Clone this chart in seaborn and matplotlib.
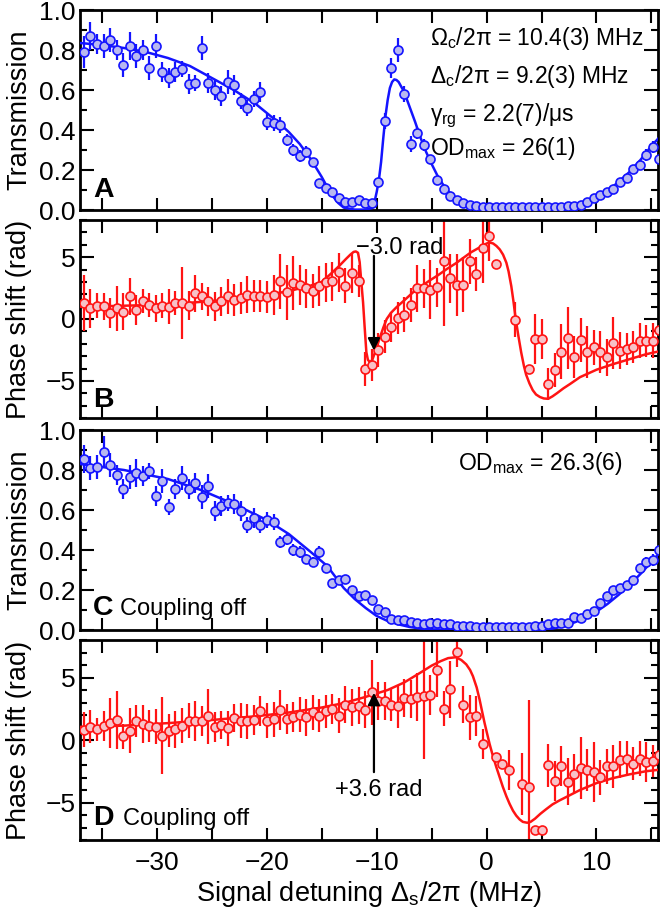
import numpy as np
import pandas as pd
import matplotlib
matplotlib.use("Agg")
import matplotlib.pyplot as plt
import seaborn as sns
from matplotlib.ticker import MultipleLocator

nan = np.nan

# signal detuning of the measured points (MHz)
detuning = [-36.64, -36.05, -35.45, -34.86, -34.26, -33.67, -33.07, -32.48, -31.88, -31.29,
            -30.69, -30.10, -29.50, -28.91, -28.31, -27.72, -27.12, -26.53, -25.93, -25.34,
            -24.74, -24.15, -23.55, -22.96, -22.36, -21.77, -21.17, -20.58, -19.98, -19.39,
            -18.79, -18.20, -17.60, -17.01, -16.41, -15.82, -15.22, -14.63, -14.03, -13.44,
            -12.84, -12.25, -11.65, -11.06, -10.46, -9.87, -9.27, -8.68, -8.08, -7.49,
            -6.89, -6.30, -5.70, -5.11, -4.51, -3.92, -3.32, -2.73, -2.13, -1.54,
            -0.94, -0.35, 0.25, 0.84, 1.44, 2.03, 2.63, 3.22, 3.82, 4.41,
            5.01, 5.60, 6.20, 6.79, 7.39, 7.98, 8.58, 9.17, 9.77, 10.36,
            10.96, 11.55, 12.15, 12.74, 13.34, 13.93, 14.53, 15.12, 15.72]

# A: transmission, coupling on
trans_on = [0.79, 0.87, 0.83, 0.82, 0.85, 0.80, 0.725, 0.82, 0.77, 0.80,
            0.71, 0.82, 0.69, 0.66, 0.69, 0.705, 0.63, 0.635, 0.81, 0.635,
            0.60, 0.57, 0.64, 0.625, 0.545, 0.51, 0.555, 0.59, 0.44, 0.435,
            0.425, 0.35, 0.30, 0.27, 0.29, 0.24, 0.135, 0.11, 0.09, 0.06,
            0.04, 0.04, 0.05, 0.035, 0.035, 0.14, 0.445, 0.71, 0.80, 0.58,
            0.33, 0.385, 0.325, 0.255, 0.15, 0.105, 0.07, 0.05, 0.035, 0.025,
            0.02, 0.015, 0.015, 0.015, 0.015, 0.015, 0.015, 0.015, 0.015, 0.015,
            0.015, 0.015, 0.015, 0.015, 0.018, 0.02, 0.025, 0.04, 0.06, 0.075,
            0.09, 0.105, 0.14, 0.16, 0.205, 0.225, 0.275, 0.315, 0.255]
trans_on_err = [0.08, 0.07, 0.05, 0.06, 0.06, 0.05, 0.06, 0.07, 0.06, 0.05,
                0.06, 0.06, 0.05, 0.05, 0.05, 0.04, 0.05, 0.04, 0.06, 0.05,
                0.05, 0.05, 0.06, 0.05, 0.04, 0.04, 0.04, 0.05, 0.04, 0.04,
                0.04, 0.03, 0.03, 0.03, 0.03, 0.02, 0.02, 0.015, 0.015, 0.01,
                0.01, 0.01, 0.015, 0.01, 0.01, 0.02, 0.04, 0.05, 0.06, 0.04,
                0.04, 0.03, 0.03, 0.02, 0.02, 0.015, 0.01, 0.01, 0.01, 0.01,
                0.01, 0.01, 0.01, 0.01, 0.01, 0.01, 0.01, 0.01, 0.01, 0.01,
                0.01, 0.01, 0.01, 0.01, 0.01, 0.01, 0.01, 0.01, 0.015, 0.015,
                0.015, 0.015, 0.02, 0.02, 0.02, 0.025, 0.03, 0.03, 0.03]

# B: phase shift, coupling on (nan = off scale)
phase_on = [1.29, 0.86, 1.08, 1.02, 0.46, 0.86, 0.59, 1.83, 0.75, 1.45,
            1.13, 0.86, 1.08, 1.00, 1.29, 1.29, 1.08, 2.07, 1.83, 1.42,
            1.02, 1.42, 1.83, 1.53, 1.69, 1.96, 1.83, 1.83, 1.75, 1.96,
            3.04, 2.15, 2.90, 2.74, 2.47, 2.26, 2.69, 2.96, 3.04, 3.76,
            2.69, 3.68, 3.04, -4.03, -3.71, -2.50, -1.42, -0.62, 0.08, 0.35,
            1.13, 2.47, 2.47, 2.37, 2.55, 4.70, 3.28, 2.77, 2.77, 4.65,
            3.63, 5.70, 6.72, 4.44, nan, nan, -0.05, nan, -4.03, -1.61,
            -1.61, -5.24, -4.11, -2.63, -1.56, -3.09, -1.69, -2.63, -2.28, -2.63,
            -3.09, -1.96, -2.55, -2.42, -2.23, -1.75, -1.75, -1.75, -0.89]
phase_on_err = [2.3, 1.6, 1.0, 1.1, 1.2, 1.8, 1.5, 1.5, 1.2, 1.0,
                1.0, 1.1, 1.0, 1.4, 1.0, 2.9, 1.2, 1.5, 1.1, 1.2,
                1.2, 1.2, 1.4, 1.3, 1.3, 1.5, 1.3, 1.3, 1.3, 1.6,
                2.2, 2.2, 2.2, 1.6, 1.6, 1.4, 1.6, 1.6, 1.6, 1.6,
                1.4, 1.6, 1.3, 1.4, 1.3, 1.4, 1.3, 1.2, 1.3, 1.4,
                1.4, 1.9, 1.6, 2.4, 1.6, 5.3, 2.0, 2.5, 2.2, 1.8,
                1.4, 2.8, 2.0, 0.3, nan, nan, 1.4, nan, 0.3, 2.0,
                1.6, 1.3, 1.4, 2.2, 2.5, 1.7, 1.8, 2.1, 1.4, 1.7,
                1.5, 2.1, 1.5, 1.3, 1.3, 1.4, 1.3, 1.4, 0.8]

# C: transmission, coupling off
trans_off = [0.855, 0.81, 0.817, 0.89, 0.825, 0.775, 0.703, 0.763, 0.783, 0.77,
             0.797, 0.67, 0.747, 0.617, 0.703, 0.758, 0.703, 0.733, 0.663, 0.72,
             0.597, 0.62, 0.635, 0.628, 0.595, 0.525, 0.558, 0.525, 0.55, 0.54,
             0.442, 0.453, 0.40, 0.39, 0.353, 0.342, 0.39, 0.308, 0.237, 0.25,
             0.253, 0.20, 0.172, 0.175, 0.15, 0.105, 0.092, 0.055, 0.05, 0.05,
             0.042, 0.033, 0.03, 0.037, 0.037, 0.03, 0.03, 0.02, 0.02, 0.02,
             0.015, 0.015, 0.015, 0.015, 0.015, 0.015, 0.015, 0.015, 0.015, 0.02,
             0.02, 0.03, 0.037, 0.037, 0.037, 0.063, 0.058, 0.078, 0.095, 0.133,
             0.17, 0.20, 0.208, 0.225, 0.25, 0.308, 0.342, 0.35, 0.40]
trans_off_err = [0.07, 0.06, 0.06, 0.08, 0.06, 0.05, 0.05, 0.06, 0.07, 0.05,
                 0.04, 0.05, 0.06, 0.04, 0.05, 0.06, 0.05, 0.05, 0.06, 0.06,
                 0.05, 0.05, 0.04, 0.05, 0.05, 0.04, 0.05, 0.04, 0.04, 0.04,
                 0.03, 0.03, 0.03, 0.03, 0.025, 0.025, 0.03, 0.02, 0.02, 0.02,
                 0.02, 0.02, 0.015, 0.015, 0.015, 0.01, 0.01, 0.01, 0.01, 0.01,
                 0.01, 0.01, 0.01, 0.01, 0.01, 0.01, 0.01, 0.01, 0.01, 0.01,
                 0.01, 0.01, 0.01, 0.01, 0.01, 0.01, 0.01, 0.01, 0.01, 0.01,
                 0.01, 0.01, 0.01, 0.01, 0.01, 0.01, 0.01, 0.01, 0.015, 0.015,
                 0.015, 0.015, 0.015, 0.02, 0.02, 0.02, 0.025, 0.03, 0.03]

# D: phase shift, coupling off
phase_off = [0.81, 1.08, 0.86, 1.13, 1.35, 1.62, 0.32, 0.76, 1.54, 1.27,
             1.13, 1.08, 0.35, 0.76, 0.86, 1.13, 1.54, 1.49, 1.54, 1.89,
             1.03, 1.22, 0.95, 1.76, 1.54, 1.49, 1.62, 2.30, 1.54, 1.68,
             2.38, 1.70, 1.81, 2.03, 1.81, 2.24, 1.95, 2.30, 2.49, 1.95,
             2.84, 2.62, 2.76, 2.43, 3.84, 3.11, 3.11, 2.84, 2.70, 3.38,
             3.30, 3.46, 3.51, 3.57, 5.62, 2.51, 4.05, 7.08, 2.84, 1.84,
             1.95, -0.35, nan, -1.35, -1.89, -2.43, nan, -3.51, -3.78, -7.16,
             -7.16, -2.03, -3.24, -2.11, -3.32, -2.70, -2.22, -2.38, -2.57, -2.97,
             -2.11, -2.11, -1.57, -1.49, -1.89, -1.49, -1.76, -1.68, -1.22]
phase_off_err = [1.4, 1.3, 0.9, 1.2, 2.0, 2.3, 1.0, 1.8, 1.3, 1.5,
                 1.3, 1.4, 3.1, 1.3, 1.5, 1.4, 1.4, 1.6, 1.2, 2.2,
                 1.2, 1.1, 1.4, 1.1, 1.4, 1.4, 1.2, 1.2, 1.4, 1.4,
                 1.6, 1.2, 1.2, 1.4, 1.5, 1.4, 1.3, 1.3, 1.2, 1.4,
                 1.5, 1.5, 1.5, 1.5, 2.6, 1.5, 1.5, 1.3, 1.7, 1.5,
                 1.5, 1.9, 5.0, 1.6, 2.2, 1.4, 2.3, 1.2, 1.5, 1.8,
                 1.6, 1.2, nan, 0.3, 0.3, 1.6, nan, 2.5, 7.0, 0.3,
                 0.3, 1.7, 1.6, 1.6, 1.9, 1.6, 2.5, 1.7, 2.4, 1.4,
                 1.4, 1.7, 1.5, 1.4, 1.3, 1.4, 1.6, 1.3, 1.0]

# fitted model curves
fit_a_x = [-37, -35, -33, -31, -29, -27, -25, -23, -21, -19, -18, -17, -16, -15.5, -15, -14.5,
           -14, -13.5, -13, -12, -11, -10.4, -10.2, -10.0, -9.8, -9.6, -9.4, -9.2, -9.0, -8.8,
           -8.6, -8.4, -8.2, -8.0, -7.8, -7.5, -7.0, -6.5, -6.0, -5.5, -5.0, -4.5, -4.0, -3.5,
           -3.0, -2.5, -2.0, -1.5, -1.0, 0, 2, 4, 6, 7, 8, 9, 10, 11, 12, 13, 14, 15, 16]
fit_a_y = [0.835, 0.825, 0.81, 0.79, 0.76, 0.72, 0.66, 0.60, 0.53, 0.44, 0.39, 0.33, 0.255, 0.21,
           0.165, 0.115, 0.07, 0.035, 0.012, 0.002, 0.002, 0.01, 0.04, 0.09, 0.15, 0.24, 0.36,
           0.47, 0.55, 0.61, 0.64, 0.653, 0.65, 0.64, 0.62, 0.59, 0.515, 0.44, 0.36, 0.29, 0.23,
           0.175, 0.13, 0.095, 0.067, 0.045, 0.03, 0.02, 0.012, 0.005, 0.002, 0.002, 0.004,
           0.008, 0.017, 0.035, 0.065, 0.095, 0.14, 0.19, 0.25, 0.32, 0.38]

fit_b_x = [-37, -34, -31, -28, -25, -22, -20, -18, -16, -15, -14.3, -13.4, -12.8, -12.4, -12.1,
           -11.9, -11.7, -11.55, -11.4, -11.24, -11.1, -10.94, -10.8, -10.6, -10.4, -10.15, -9.9,
           -9.7, -9.4, -9.09, -8.7, -8.2, -7.5, -6.7, -6.0, -5.2, -4.4, -3.6, -2.8, -2.1, -1.4,
           -0.6, 0.0, 0.3, 0.6, 0.9, 1.2, 1.5, 1.8, 2.0, 2.25, 2.45, 2.65, 2.9, 3.15, 3.4, 3.6,
           3.9, 4.2, 4.5, 4.85, 5.2, 5.6, 6.0, 6.4, 7.0, 7.6, 8.5, 10.0, 11.5, 13.0, 14.5, 16.0]
fit_b_y = [1.0, 1.05, 1.12, 1.25, 1.45, 1.7, 1.95, 2.25, 2.7, 3.0, 3.55, 4.3, 4.85, 5.2, 5.42,
           5.46, 5.35, 4.6, 3.0, 1.34, -0.6, -2.69, -3.3, -3.5, -3.3, -2.69, -2.0, -1.48, -0.7,
           0.0, 0.5, 0.95, 1.5, 2.15, 2.6, 3.1, 3.55, 4.05, 4.5, 4.95, 5.4, 5.8, 6.1, 6.18, 6.1,
           5.9, 5.62, 5.2, 4.55, 3.85, 2.65, 1.4, 0.0, -1.4, -2.7, -3.8, -4.5, -5.2, -5.75,
           -6.1, -6.3, -6.42, -6.45, -6.25, -6.0, -5.6, -5.25, -4.7, -4.1, -3.65, -3.25, -2.85,
           -2.55]

fit_c_x = [-37, -33, -29, -26, -23, -20, -18, -16, -14.5, -13, -12, -11, -10, -9, -8, -7, -6,
           -5, 0, 5, 6, 7, 8, 9, 10, 11, 12, 13, 14, 15, 16]
fit_c_y = [0.83, 0.80, 0.755, 0.70, 0.63, 0.55, 0.48, 0.39, 0.32, 0.21, 0.155, 0.11, 0.07,
           0.045, 0.028, 0.015, 0.007, 0.003, 0.001, 0.003, 0.007, 0.018, 0.038, 0.062, 0.092,
           0.13, 0.175, 0.225, 0.28, 0.34, 0.40]

fit_d_x = [-37, -33, -29, -25, -21, -18, -15, -13, -11, -9, -7.5, -6, -5, -4.2, -3.5, -2.8,
           -2.3, -1.85, -1.5, -1.24, -0.9, -0.64, -0.4, -0.18, 0.05, 0.27, 0.55, 0.88, 1.2,
           1.48, 1.8, 2.09, 2.4, 2.7, 3.0, 3.3, 3.7, 4.0, 4.4, 4.9, 5.4, 6.0, 6.6, 7.5, 8.5,
           10, 11.5, 13, 14.5, 16]
fit_d_y = [1.05, 1.15, 1.35, 1.6, 1.9, 2.2, 2.6, 2.95, 3.45, 4.0, 4.6, 5.4, 5.95, 6.3, 6.55,
           6.62, 6.4, 6.05, 5.6, 5.1, 4.2, 3.25, 2.25, 1.35, 0.5, -0.3, -1.2, -2.15, -3.0,
           -3.75, -4.5, -5.1, -5.65, -6.05, -6.35, -6.55, -6.62, -6.55, -6.3, -5.9, -5.55,
           -5.15, -4.85, -4.45, -4.0, -3.45, -3.05, -2.75, -2.5, -2.35]

sns.set_style("ticks")
plt.rcParams["font.family"] = ["Liberation Sans", "DejaVu Sans"]
plt.rcParams["mathtext.fontset"] = "custom"
plt.rcParams["mathtext.rm"] = "Liberation Sans"
plt.rcParams["mathtext.it"] = "Liberation Sans"
plt.rcParams["mathtext.bf"] = "Liberation Sans:bold"
plt.rcParams["text.color"] = "black"
plt.rcParams["axes.labelcolor"] = "black"

blue, blue_face = "#1414ff", "#b8b8f0"
red, red_face = "#ff1414", "#f7c2c8"

fig = plt.figure(figsize=(6.6, 9.16), dpi=100)
tops = [10, 220, 430, 640]
bottoms = [210, 418, 630, 840]
axes = [fig.add_axes([80 / 660, 1 - b / 916, 578 / 660, (b - t) / 916])
        for t, b in zip(tops, bottoms)]


def draw_panel(ax, y, yerr, fit_x, fit_y, col, face):
    pts = pd.DataFrame({"x": detuning, "y": y, "err": yerr}).dropna()
    ax.errorbar(pts["x"], pts["y"], yerr=pts["err"], fmt="none", ecolor=col,
                elinewidth=1.6, capsize=0, zorder=2)
    sns.lineplot(x=fit_x, y=fit_y, ax=ax, color=col, lw=1.8, estimator=None,
                 sort=False, zorder=3)
    sns.scatterplot(data=pts, x="x", y="y", ax=ax, s=42, color=face, edgecolor=col,
                    linewidth=1.2, zorder=4, legend=False)


draw_panel(axes[0], trans_on, trans_on_err, fit_a_x, fit_a_y, blue, blue_face)
draw_panel(axes[1], phase_on, phase_on_err, fit_b_x, fit_b_y, red, red_face)
draw_panel(axes[2], trans_off, trans_off_err, fit_c_x, fit_c_y, blue, blue_face)
draw_panel(axes[3], phase_off, phase_off_err, fit_d_x, fit_d_y, red, red_face)

for i, ax in enumerate(axes):
    ax.set_xlim(-37, 15.6)
    ax.xaxis.set_major_locator(MultipleLocator(10))
    ax.xaxis.set_minor_locator(MultipleLocator(5))
    if i % 2 == 0:
        ax.set_ylim(0, 1.0)
        ax.yaxis.set_major_locator(MultipleLocator(0.2))
        ax.yaxis.set_minor_locator(MultipleLocator(0.1))
        ax.set_ylabel("Transmission", fontsize=19.5)
    else:
        ax.set_ylim(-8, 8)
        ax.yaxis.set_major_locator(MultipleLocator(5))
        ax.yaxis.set_minor_locator(MultipleLocator(1))
        ax.set_ylabel("Phase shift (rad)", fontsize=19.5)
    ax.yaxis.set_label_coords(-0.083, 0.5)
    ax.set_xlabel("")
    ax.tick_params(which="both", direction="in", top=True, right=True, width=1.5,
                   labelsize=19, colors="black")
    ax.tick_params(axis="y", which="major", length=10, pad=3)
    ax.tick_params(axis="y", which="minor", length=5)
    ax.tick_params(axis="x", which="both", length=9, pad=8)
    ax.tick_params(labelbottom=(i == 3))
    for s in ax.spines.values():
        s.set_linewidth(2)
        s.set_color("black")

axes[3].set_xlabel(r"Signal detuning $\Delta_\mathrm{s}/2\pi$ (MHz)", fontsize=19.5, labelpad=3)

# panel letters
for ax, letter, yb in zip(axes, "ABCD", [0.065, 0.055, 0.075, 0.075]):
    ax.text(0.023, yb, letter, transform=ax.transAxes, fontsize=20.5, fontweight="bold",
            va="baseline", ha="left")
axes[2].text(0.069, 0.075, "Coupling off", transform=axes[2].transAxes, fontsize=17,
             va="baseline")
axes[3].text(0.074, 0.075, "Coupling off", transform=axes[3].transAxes, fontsize=17,
             va="baseline")

# fit parameters
params = [r"$\Omega_\mathrm{c}/2\pi$ = 10.4(3) MHz",
          r"$\Delta_\mathrm{c}/2\pi$ = 9.2(3) MHz",
          r"$\gamma_\mathrm{rg}$ = 2.2(7)/μs",
          r"OD$_\mathrm{max}$ = 26(1)"]
for txt, yb in zip(params, [0.825, 0.635, 0.447, 0.275]):
    axes[0].text(-5.18, yb, txt, fontsize=16.5, va="baseline", ha="left")
axes[2].text(-2.64, 0.80, r"OD$_\mathrm{max}$ = 26.3(6)", fontsize=16.5, va="baseline",
             ha="left")

# phase arrows
arrow = dict(arrowstyle="-|>", color="black", lw=1.6, mutation_scale=18,
             shrinkA=0, shrinkB=0)
axes[1].annotate("", xy=(-10.25, -2.55), xytext=(-10.25, 5.1), arrowprops=arrow, zorder=5)
axes[1].text(-7.9, 5.25, "\u22123.0 rad", fontsize=17, ha="center", va="baseline")
axes[3].annotate("", xy=(-10.25, 3.78), xytext=(-10.25, -2.57), arrowprops=arrow, zorder=5)
axes[3].text(-9.77, -4.45, "+3.6 rad", fontsize=17, ha="center", va="baseline")

fig.savefig("out.png", dpi=100)
